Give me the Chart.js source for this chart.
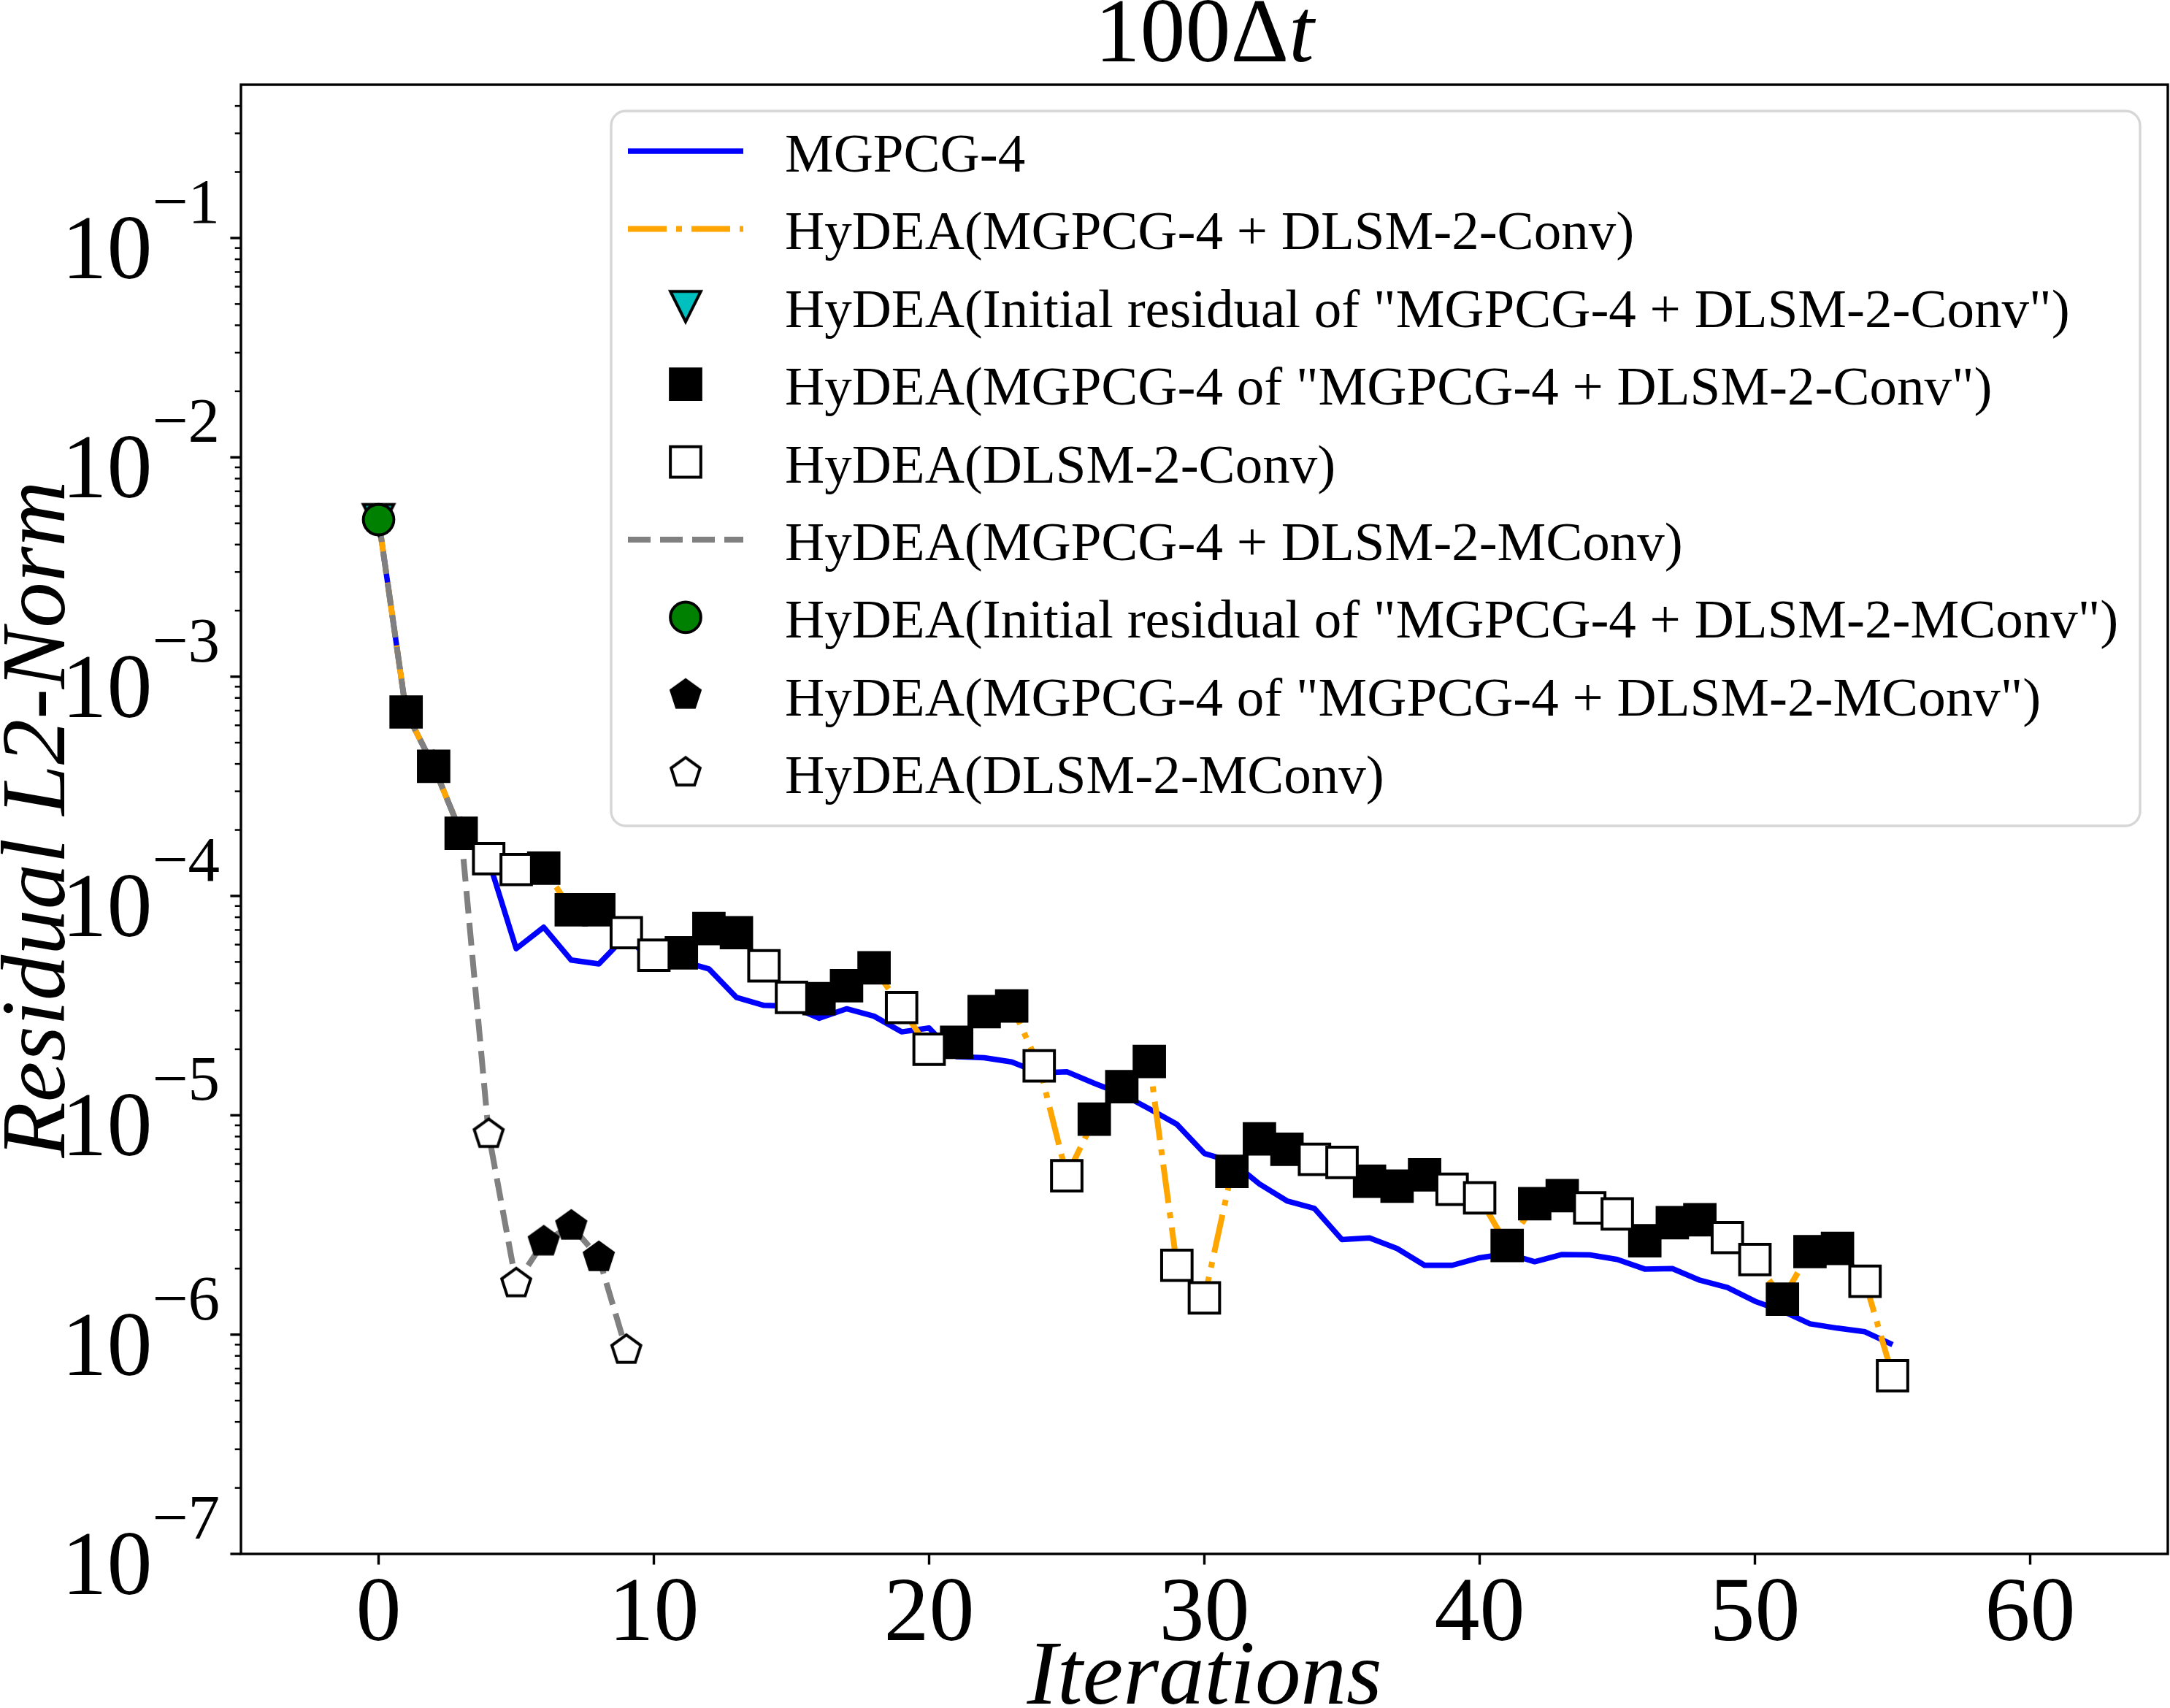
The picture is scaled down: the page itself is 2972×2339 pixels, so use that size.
<!DOCTYPE html>
<html>
<head>
<meta charset="utf-8">
<title>100Δt – residual history</title>
<script src="https://cdn.jsdelivr.net/npm/chart.js@4.4.1/dist/chart.umd.min.js"></script>
<style>
  html, body { margin: 0; padding: 0; background: #fff; }
  canvas { display: block; }
</style>
</head>
<body>
<canvas id="residualChart" width="2972" height="2339"></canvas>
<script>
// ---- data ----
const iterations = [0, 1, 2, 3, 4, 5, 6, 7, 8, 9, 10, 11, 12, 13, 14, 15, 16, 17, 18, 19,
  20, 21, 22, 23, 24, 25, 26, 27, 28, 29, 30, 31, 32, 33, 34, 35, 36, 37, 38, 39,
  40, 41, 42, 43, 44, 45, 46, 47, 48, 49, 50, 51, 52, 53, 54, 55];

const mgpcg4 = [5.2e-3, 6.9e-4, 3.9e-4, 1.93e-4, 1.45e-4, 5.75e-5, 7.2e-5, 5.1e-5, 4.9e-5, 6.6e-5,
  4.9e-5, 5.05e-5, 4.65e-5, 3.45e-5, 3.17e-5, 3.14e-5, 2.77e-5, 3.06e-5, 2.83e-5, 2.4e-5,
  2.5e-5, 1.85e-5, 1.83e-5, 1.75e-5, 1.56e-5, 1.58e-5, 1.4e-5, 1.25e-5, 1.07e-5, 9.1e-6,
  6.7e-6, 6.15e-6, 4.86e-6, 4.07e-6, 3.76e-6, 2.71e-6, 2.76e-6, 2.47e-6, 2.07e-6, 2.07e-6,
  2.24e-6, 2.34e-6, 2.15e-6, 2.32e-6, 2.31e-6, 2.2e-6, 1.99e-6, 2.0e-6, 1.77e-6, 1.64e-6,
  1.42e-6, 1.28e-6, 1.12e-6, 1.07e-6, 1.03e-6, 9.0e-7];

const hydeaConv = [5.2e-3, 6.9e-4, 3.9e-4, 1.93e-4, 1.48e-4, 1.32e-4, 1.34e-4, 8.65e-5, 8.65e-5, 6.8e-5,
  5.37e-5, 5.5e-5, 7.1e-5, 6.8e-5, 4.8e-5, 3.45e-5, 3.4e-5, 3.9e-5, 4.7e-5, 3.1e-5,
  2.0e-5, 2.15e-5, 2.97e-5, 3.15e-5, 1.68e-5, 5.3e-6, 9.6e-6, 1.35e-5, 1.76e-5, 2.07e-6,
  1.47e-6, 5.55e-6, 7.8e-6, 7.0e-6, 6.3e-6, 6.1e-6, 5.0e-6, 4.75e-6, 5.35e-6, 4.6e-6,
  4.2e-6, 2.55e-6, 3.95e-6, 4.3e-6, 3.78e-6, 3.55e-6, 2.68e-6, 3.24e-6, 3.34e-6, 2.77e-6,
  2.2e-6, 1.45e-6, 2.39e-6, 2.47e-6, 1.75e-6, 6.5e-7];

const convInitialIter = [0];
const convMgpcgIter = [1, 2, 3, 6, 7, 8, 11, 12, 13, 16, 17, 18, 21, 22, 23, 26, 27, 28,
  31, 32, 33, 36, 37, 38, 41, 42, 43, 46, 47, 48, 51, 52, 53];
const convDlsmIter = [4, 5, 9, 10, 14, 15, 19, 20, 24, 25, 29, 30, 34, 35, 39, 40, 44, 45, 49, 50, 54, 55];

const mconvIterations = [0, 1, 2, 3, 4, 5, 6, 7, 8, 9];
const hydeaMConv = [5.2e-3, 6.9e-4, 3.9e-4, 1.93e-4, 8.2e-6, 1.71e-6, 2.65e-6, 3.13e-6, 2.25e-6, 8.5e-7];
const mconvInitialIter = [0];
const mconvMgpcgIter = [1, 2, 3, 6, 7, 8];
const mconvDlsmIter = [4, 5, 9];

const seriesLabels = [
  'MGPCG-4',
  'HyDEA(MGPCG-4 + DLSM-2-Conv)',
  'HyDEA(Initial residual of "MGPCG-4 + DLSM-2-Conv")',
  'HyDEA(MGPCG-4 of "MGPCG-4 + DLSM-2-Conv")',
  'HyDEA(DLSM-2-Conv)',
  'HyDEA(MGPCG-4 + DLSM-2-MConv)',
  'HyDEA(Initial residual of "MGPCG-4 + DLSM-2-MConv")',
  'HyDEA(MGPCG-4 of "MGPCG-4 + DLSM-2-MConv")',
  'HyDEA(DLSM-2-MConv)'
];

const xTicks = [0, 10, 20, 30, 40, 50, 60];
const yMajorTicks = [1e-7, 1e-6, 1e-5, 1e-4, 1e-3, 1e-2, 1e-1];
const yMinorSteps = [2, 3, 4, 5, 6, 7, 8, 9];

// ---- helpers ----
const SERIF = "'Liberation Serif', 'Times New Roman', Times, serif";
const MS = 41.7;     // marker size (px)
const EDGE = 4;      // marker edge width

const pts = (xs, ys) => xs.map((v, i) => ({ x: v, y: ys[i] }));
const pick = (sel, xs, ys) => sel.map(i => ({ x: i, y: ys[xs.indexOf(i)] }));

function markerCanvas(draw) {
  const c = document.createElement('canvas');
  c.width = c.height = 60;
  draw(c.getContext('2d'), 30);
  return c;
}

function pentagon(fill) {
  return markerCanvas((g, c) => {
    const r = MS / 2;
    g.beginPath();
    for (let k = 0; k < 5; k++) {
      const a = -Math.PI / 2 + k * 2 * Math.PI / 5;
      g.lineTo(c + r * Math.cos(a), c + r * Math.sin(a));
    }
    g.closePath();
    g.fillStyle = fill;
    g.fill();
    g.lineWidth = EDGE;
    g.strokeStyle = '#000';
    g.stroke();
  });
}

const triangleDown = markerCanvas((g, c) => {
  const h = MS / 2;
  g.beginPath();
  g.moveTo(c, c + h);
  g.lineTo(c - h, c - h);
  g.lineTo(c + h, c - h);
  g.closePath();
  g.fillStyle = '#00bfbf';
  g.fill();
  g.lineWidth = EDGE;
  g.strokeStyle = '#000';
  g.stroke();
});

function lineSet(label, data, color, width, dash, order) {
  return {
    label, data, order,
    borderColor: color, borderWidth: width, borderDash: dash,
    borderJoinStyle: 'round', pointRadius: 0, tension: 0, fill: false
  };
}

function markerSet(label, data, style, radius, face, order) {
  return {
    label, data, order, showLine: false,
    pointStyle: style, pointRadius: radius,
    pointBackgroundColor: face, pointBorderColor: '#000', pointBorderWidth: EDGE
  };
}

// ---- decorations: spines, ticks, tick labels, axis titles, title ----
const axesDecor = {
  id: 'axesDecor',
  afterDraw(chart) {
    const { ctx, chartArea: a, scales: { x, y } } = chart;
    ctx.save();
    ctx.strokeStyle = '#000';
    ctx.fillStyle = '#000';

    ctx.lineWidth = 3.4;
    ctx.strokeRect(a.left, a.top, a.right - a.left, a.bottom - a.top);

    // x ticks
    ctx.font = `124px ${SERIF}`;
    ctx.textAlign = 'center';
    ctx.textBaseline = 'alphabetic';
    x.ticks.forEach(t => {
      const px = x.getPixelForValue(t.value);
      ctx.lineWidth = 3.4;
      ctx.beginPath();
      ctx.moveTo(px, a.bottom);
      ctx.lineTo(px, a.bottom + 14.6);
      ctx.stroke();
      ctx.fillText(String(t.value), px, 2246);
    });

    // y ticks (log)
    y.ticks.forEach(t => {
      const py = y.getPixelForValue(t.value);
      ctx.lineWidth = t.major ? 3.4 : 2.5;
      ctx.beginPath();
      ctx.moveTo(a.left, py);
      ctx.lineTo(a.left - (t.major ? 14.6 : 8.3), py);
      ctx.stroke();
      if (t.major) {
        const sup = '\u2212' + Math.abs(Math.round(Math.log10(t.value)));
        ctx.textAlign = 'right';
        ctx.font = `87px ${SERIF}`;
        const supW = ctx.measureText(sup).width;
        ctx.fillText(sup, 301, py - 21);
        ctx.font = `124px ${SERIF}`;
        ctx.fillText('10', 301 - supW, py + 55);
      }
    });

    // axis titles
    const cx = (a.left + a.right) / 2;
    ctx.font = `italic 125px ${SERIF}`;
    ctx.textAlign = 'center';
    ctx.fillText('Iterations', cx, 2333);

    ctx.save();
    ctx.translate(88, (a.top + a.bottom) / 2);
    ctx.rotate(-Math.PI / 2);
    ctx.fillText('Residual L2-Norm', 0, 0);
    ctx.restore();

    // title 100Δt
    ctx.font = `124px ${SERIF}`;
    const w1 = ctx.measureText('100\u0394').width;
    ctx.font = `italic 124px ${SERIF}`;
    const w2 = ctx.measureText('t').width;
    const start = cx - (w1 + w2) / 2;
    ctx.textAlign = 'left';
    ctx.font = `124px ${SERIF}`;
    ctx.fillText('100\u0394', start, 84);
    ctx.font = `italic 124px ${SERIF}`;
    ctx.fillText('t', start + w1, 84);
    ctx.restore();
  }
};

// ---- matplotlib-like legend ----
function drawMarker(ctx, ds, x, y) {
  const style = ds.pointStyle;
  if (style instanceof HTMLCanvasElement) {
    ctx.drawImage(style, x - style.width / 2, y - style.height / 2);
    return;
  }
  ctx.fillStyle = ds.pointBackgroundColor;
  ctx.strokeStyle = ds.pointBorderColor;
  ctx.lineWidth = ds.pointBorderWidth;
  ctx.beginPath();
  if (style === 'rect') {
    const s = ds.pointRadius * Math.SQRT1_2;
    ctx.rect(x - s, y - s, 2 * s, 2 * s);
  } else {
    ctx.arc(x, y, ds.pointRadius, 0, Math.PI * 2);
  }
  ctx.fill();
  ctx.stroke();
}

const legendPanel = {
  id: 'legendPanel',
  afterDraw(chart) {
    const ctx = chart.ctx;
    const box = { left: 837, top: 152, right: 2931, bottom: 1131 };
    ctx.save();
    ctx.beginPath();
    ctx.roundRect(box.left, box.top, box.right - box.left, box.bottom - box.top, 20);
    ctx.fillStyle = 'rgba(255,255,255,0.8)';
    ctx.fill();
    ctx.lineWidth = 3.4;
    ctx.strokeStyle = 'rgba(204,204,204,0.8)';
    ctx.stroke();

    chart.data.datasets.forEach((ds, i) => {
      const cy = 207 + i * 106.4;
      if (ds.showLine === false) {
        drawMarker(ctx, ds, 939, cy);
      } else {
        ctx.beginPath();
        ctx.setLineDash(ds.borderDash || []);
        ctx.lineWidth = ds.borderWidth;
        ctx.strokeStyle = ds.borderColor;
        ctx.moveTo(860, cy);
        ctx.lineTo(1018, cy);
        ctx.stroke();
        ctx.setLineDash([]);
      }
      ctx.fillStyle = '#000';
      ctx.font = `75px ${SERIF}`;
      ctx.textAlign = 'left';
      ctx.textBaseline = 'alphabetic';
      ctx.fillText(ds.label, 1075, cy + 28);
    });
    ctx.restore();
  }
};

// ---- chart ----
const datasets = [
  lineSet(seriesLabels[0], pts(iterations, mgpcg4), '#0000ff', 7.5, [], 100),
  lineSet(seriesLabels[1], pts(iterations, hydeaConv), '#ffa500', 8, [53, 13, 8, 13], 99),
  markerSet(seriesLabels[2], pick(convInitialIter, iterations, hydeaConv), triangleDown, 20, '#00bfbf', 97),
  markerSet(seriesLabels[3], pick(convMgpcgIter, iterations, hydeaConv), 'rect', MS / Math.SQRT2, '#000', 96),
  markerSet(seriesLabels[4], pick(convDlsmIter, iterations, hydeaConv), 'rect', MS / Math.SQRT2, '#fff', 95),
  lineSet(seriesLabels[5], pts(mconvIterations, hydeaMConv), '#808080', 8, [31, 13], 98),
  markerSet(seriesLabels[6], pick(mconvInitialIter, mconvIterations, hydeaMConv), 'circle', MS / 2, '#008000', 94),
  markerSet(seriesLabels[7], pick(mconvMgpcgIter, mconvIterations, hydeaMConv), pentagon('#000'), 20, '#000', 93),
  markerSet(seriesLabels[8], pick(mconvDlsmIter, mconvIterations, hydeaMConv), pentagon('#fff'), 20, '#fff', 92)
];

new Chart(document.getElementById('residualChart'), {
  type: 'line',
  data: { datasets },
  options: {
    responsive: false,
    animation: false,
    events: [],
    layout: { autoPadding: false, padding: { top: 116, right: 3, bottom: 0, left: 0 } },
    plugins: {
      legend: { display: false },
      tooltip: { enabled: false },
      title: { display: false }
    },
    scales: {
      x: {
        type: 'linear',
        min: -5,
        max: 65,
        bounds: 'data',
        grid: { display: false },
        border: { display: false },
        ticks: { display: false },
        afterBuildTicks: s => { s.ticks = xTicks.map(v => ({ value: v })); },
        afterFit: s => { s.height = 211; }
      },
      y: {
        type: 'logarithmic',
        min: 1e-7,
        max: 0.5,
        bounds: 'data',
        grid: { display: false },
        border: { display: false },
        ticks: { display: false },
        afterBuildTicks: s => {
          const ticks = [];
          yMajorTicks.forEach(d => {
            ticks.push({ value: d, major: true });
            yMinorSteps.forEach(m => {
              const v = d * m;
              if (v < s.max) ticks.push({ value: v, major: false });
            });
          });
          s.ticks = ticks;
        },
        afterFit: s => { s.width = 330; }
      }
    }
  },
  plugins: [axesDecor, legendPanel]
});
</script>
</body>
</html>
